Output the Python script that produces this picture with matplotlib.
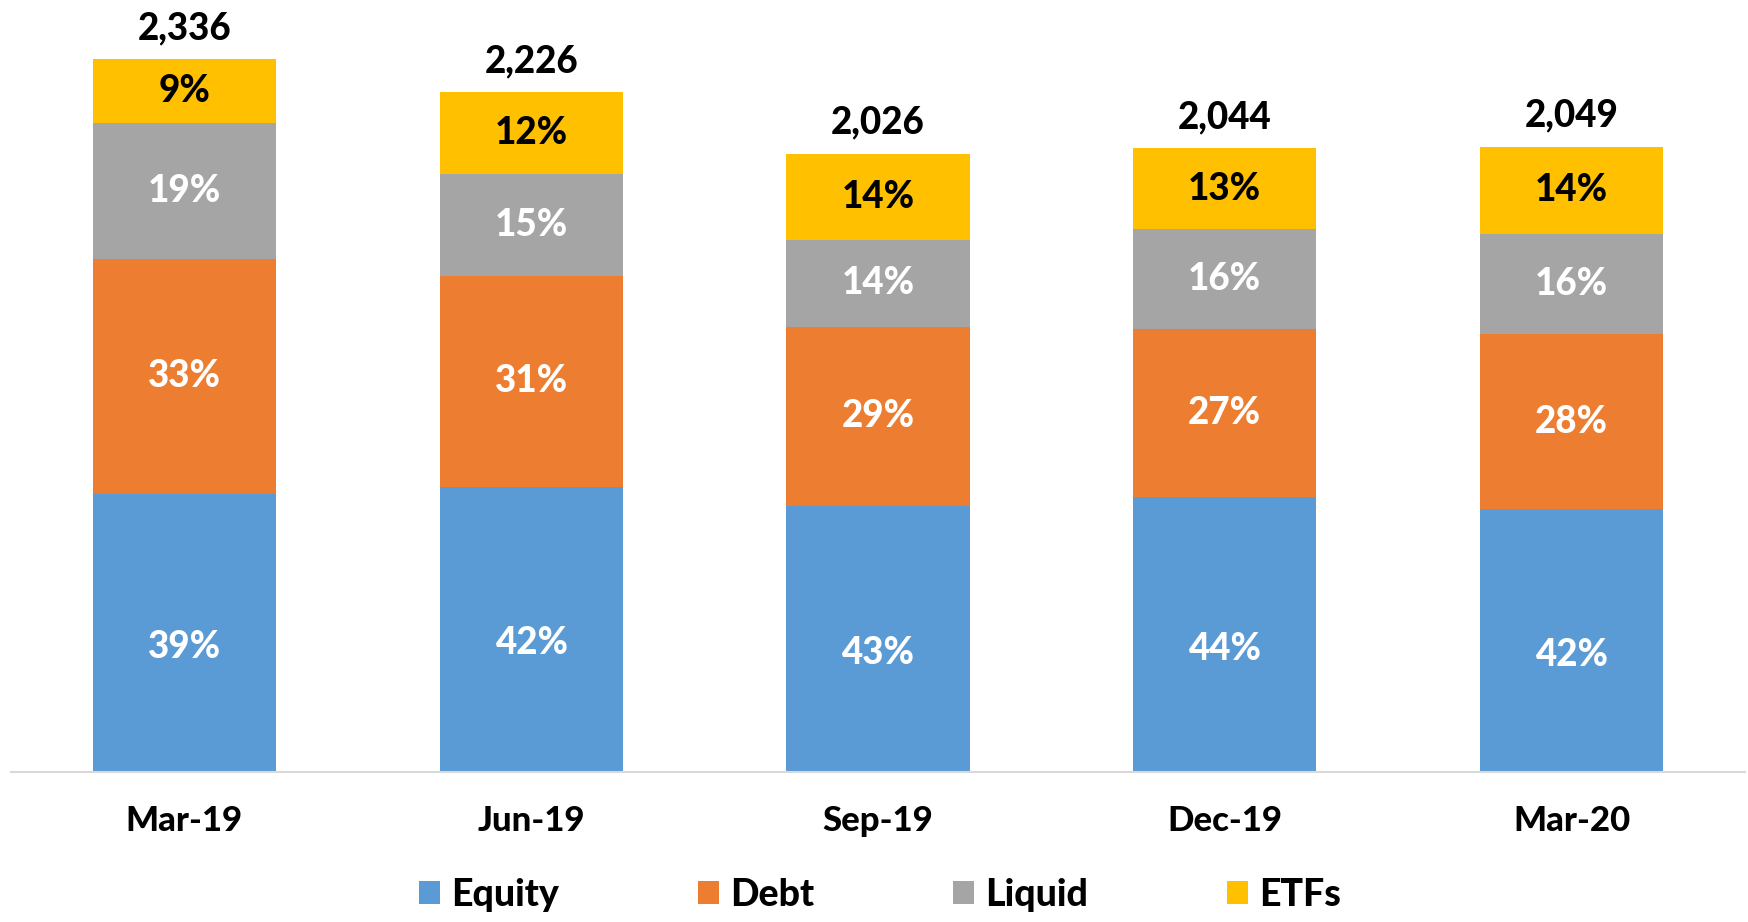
import matplotlib
matplotlib.use("Agg")
import matplotlib.pyplot as plt
from matplotlib.patches import Patch
import numpy as np

categories = ["Mar-19", "Jun-19", "Sep-19", "Dec-19", "Mar-20"]
totals = [2336, 2226, 2026, 2044, 2049]
equity_pct = [39, 42, 43, 44, 42]
debt_pct = [33, 31, 29, 27, 28]
liquid_pct = [19, 15, 14, 16, 16]
etf_pct = [9, 12, 14, 13, 14]
series_names = ["Equity", "Debt", "Liquid", "ETFs"]

colors = ["#5B9BD5", "#ED7D31", "#A5A5A5", "#FFC000"]
label_colors = ["white", "white", "white", "black"]

plt.rcParams['font.family'] = ['Lato', 'DejaVu Sans']
W = 900

fig = plt.figure(figsize=(17.49, 9.22), dpi=100)
ax = fig.add_axes([11/1749, 150/922, 1734/1749, 772/922])

x = np.arange(len(categories))
tot = np.array(totals, dtype=float)
pcts = [equity_pct, debt_pct, liquid_pct, etf_pct]
bottom = np.zeros(len(categories))
width = 0.528
for k, (p, c, lc) in enumerate(zip(pcts, colors, label_colors)):
    vals = tot * np.array(p) / 100.0
    ax.bar(x, vals, width, bottom=bottom, color=c, linewidth=0)
    for i in range(len(x)):
        yc = bottom[i] + vals[i] / 2
        dy = -10 if k == 0 else 0
        ax.annotate(f"{p[i]}%", (x[i], yc), xytext=(0, dy), textcoords="offset points",
                    ha="center", va="center", color=lc, fontsize=26.5, fontweight=W)
    bottom += vals

for i in range(len(x)):
    ax.annotate(f"{totals[i]:,}", (x[i], tot[i]), xytext=(0, 10), textcoords="offset points",
                ha="center", va="bottom", color="black", fontsize=26.5, fontweight=W)

ax.set_xlim(-0.5, 4.5)
ax.set_ylim(0, 2529)
ax.set_xticks(x)
ax.set_xticklabels(categories, fontsize=25, fontweight=W)
ax.tick_params(axis="x", length=0, pad=24)
ax.set_yticks([])
for s in ["top", "left", "right"]:
    ax.spines[s].set_visible(False)
ax.spines["bottom"].set_color("#D9D9D9")
ax.spines["bottom"].set_linewidth(1.5)

handles = [Patch(facecolor=c, edgecolor="none", label=n) for c, n in zip(colors, series_names)]
fig.legend(handles=handles, loc="center", bbox_to_anchor=(880/1749, 27/922), ncol=4,
           frameon=False, prop={"weight": W, "size": 27},
           handlelength=0.56, handleheight=0.56, handletextpad=0.3, columnspacing=3.7)

fig.savefig("out.png", dpi=100)
